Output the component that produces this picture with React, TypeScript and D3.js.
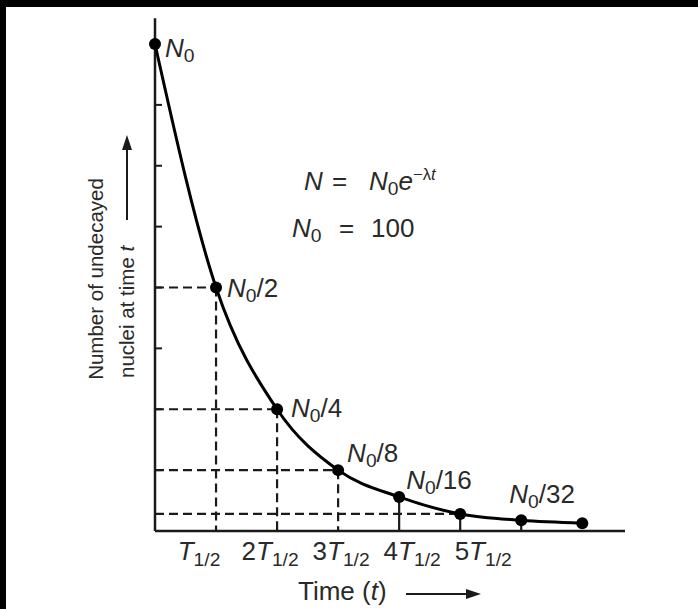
import React from "react";
import * as d3 from "d3";

// ---- data ----
const HALF_LIVES = [0, 1, 2, 3, 4, 5, 6, 7];
const N_VALUES = [100, 50, 25, 12.5, 7, 3.5, 2.2, 1.6];
const Y_TICKS = [12.5, 25, 37.5, 50, 62.5, 75, 87.5];
const X_TICK_PREFIX = ["", "2", "3", "4", "5"]; // for T1/2 .. 5T1/2
const POINT_LABELS = [
  { i: 0, den: "" },
  { i: 1, den: "2" },
  { i: 2, den: "4" },
  { i: 3, den: "8" },
  { i: 4, den: "16" },
  { i: 6, den: "32" },
];
const DASHED_H = [1, 2, 3, 5];
const DASHED_V = [1, 2, 3];
const SOLID_V = [4, 5, 6];

const W = 698;
const H = 609;
const FONT = "'Liberation Sans', Arial, Helvetica, sans-serif";
const INK = "#1a1a1a";
const TXT = "#2a2a2a";

export default function App() {
  const x = d3.scaleLinear().domain([0, 7.7]).range([155, 625]);
  const y = d3.scaleLinear().domain([0, 100]).range([531, 44]);
  const pts = HALF_LIVES.map((t, i) => [x(t), y(N_VALUES[i])] as [number, number]);
  const line = d3.line().curve(d3.curveMonotoneX)(pts) || "";

  const labelOffsets: Record<number, [number, number]> = {
    0: [10, 13],
    1: [11, 9],
    2: [14, 8],
    3: [9, -8],
    4: [7, -8],
    6: [-12, -17],
  };

  const fs = 26;
  const sub = fs * 0.74;
  return (
    <svg
      width={W}
      height={H}
      style={{ position: "absolute", left: 0, top: 0, background: "#fff" }}
      fontFamily={FONT}
    >
      <rect x={0} y={0} width={W} height={H} fill="#fff" />
      <rect x={0} y={0} width={W} height={7} fill="#000" />
      <rect x={0} y={0} width={6} height={H} fill="#000" />

      {/* dashed guides */}
      {DASHED_H.map((i) => (
        <line
          key={"h" + i}
          x1={x(0)}
          x2={x(HALF_LIVES[i])}
          y1={y(N_VALUES[i])}
          y2={y(N_VALUES[i])}
          stroke={INK}
          strokeWidth={2.2}
          strokeDasharray="9,5"
        />
      ))}
      {DASHED_V.map((i) => (
        <line
          key={"v" + i}
          x1={x(HALF_LIVES[i])}
          x2={x(HALF_LIVES[i])}
          y1={y(N_VALUES[i])}
          y2={y(0)}
          stroke={INK}
          strokeWidth={2.2}
          strokeDasharray="9,5"
        />
      ))}
      {SOLID_V.map((i) => (
        <line
          key={"s" + i}
          x1={x(HALF_LIVES[i])}
          x2={x(HALF_LIVES[i])}
          y1={y(N_VALUES[i])}
          y2={y(0)}
          stroke={INK}
          strokeWidth={2.2}
        />
      ))}

      {/* axes */}
      <line x1={x(0)} x2={x(0)} y1={y(105.3)} y2={y(0)} stroke={INK} strokeWidth={2.5} />
      <line x1={x(0)} x2={x(7.7)} y1={y(0)} y2={y(0)} stroke={INK} strokeWidth={2.5} />
      {Y_TICKS.map((v) => (
        <line key={"yt" + v} x1={x(0)} x2={x(0) + 7} y1={y(v)} y2={y(v)} stroke={INK} strokeWidth={2} />
      ))}

      {/* curve */}
      <path d={line} fill="none" stroke="#000" strokeWidth={3} />
      {pts.map(([px, py], i) => (
        <circle key={"p" + i} cx={px} cy={py} r={6} fill="#000" />
      ))}

      {/* point labels */}
      {POINT_LABELS.map(({ i, den }) => {
        const [dx, dy] = labelOffsets[i];
        return (
          <text key={"l" + i} x={pts[i][0] + dx} y={pts[i][1] + dy} fontSize={fs} fill={TXT}>
            <tspan fontStyle="italic">N</tspan>
            <tspan fontSize={sub} dy={5}>0</tspan>
            {den ? <tspan dy={-5}>/{den}</tspan> : null}
          </text>
        );
      })}

      {/* formula */}
      <text y={190} fontSize={fs} fill={TXT}>
        <tspan x={304} fontStyle="italic">N</tspan>
        <tspan x={332}>=</tspan>
        <tspan x={369} fontStyle="italic">N</tspan>
        <tspan fontSize={sub} dy={5}>0</tspan>
        <tspan fontStyle="italic" dy={-5}>e</tspan>
        <tspan fontSize={fs * 0.64} dy={-10}>−λ</tspan>
        <tspan fontSize={fs * 0.64} fontStyle="italic">t</tspan>
      </text>
      <text y={237} fontSize={fs} fill={TXT}>
        <tspan x={292} fontStyle="italic">N</tspan>
        <tspan fontSize={sub} dy={5}>0</tspan>
        <tspan x={339} dy={-5}>=</tspan>
        <tspan x={371}>100</tspan>
      </text>

      {/* x tick labels */}
      {X_TICK_PREFIX.map((p, k) => {
        const i = k + 1;
        return (
          <text
            key={"xt" + i}
            x={x(HALF_LIVES[i]) - 17 + 10 * k}
            y={560}
            fontSize={fs}
            textAnchor="middle"
            fill={TXT}
          >
            {p ? <tspan>{p}</tspan> : null}
            <tspan fontStyle="italic">T</tspan>
            <tspan fontSize={sub} dy={6}>1/2</tspan>
          </text>
        );
      })}

      {/* x axis title */}
      <text x={298} y={600} fontSize={fs} fill={TXT}>
        Time (<tspan fontStyle="italic">t</tspan>)
      </text>
      <line x1={406} x2={470} y1={594} y2={594} stroke={INK} strokeWidth={2} />
      <path d="M481,594 L466,589 L466,599 Z" fill={INK} />

      {/* y axis title */}
      <g transform="translate(103,279) rotate(-90)">
        <text x={0} y={0} fontSize={20.5} textAnchor="middle" fill={TXT}>
          Number of undecayed
        </text>
      </g>
      <g transform="translate(134,378) rotate(-90)">
        <text x={0} y={0} fontSize={20.5} fill={TXT}>
          nuclei at time <tspan fontStyle="italic">t</tspan>
        </text>
      </g>
      <line x1={127} x2={127} y1={220} y2={148} stroke={INK} strokeWidth={2} />
      <path d="M127,135 L122,150 L132,150 Z" fill={INK} />
    </svg>
  );
}
